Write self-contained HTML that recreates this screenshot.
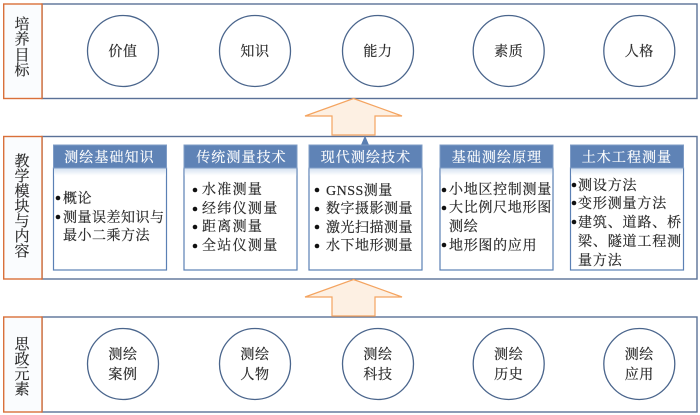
<!DOCTYPE html>
<html lang="zh"><head><meta charset="utf-8">
<style>
html,body{margin:0;padding:0;background:#fff;width:700px;height:415px;overflow:hidden}
svg{display:block}
text{font-family:"Liberation Serif","Noto Serif CJK SC",serif;font-size:14px;fill:#2b2b2b;stroke:#2b2b2b;stroke-width:.2px}
.c{text-anchor:middle}
.h{fill:#fff;stroke:#fff;stroke-width:.15px;font-size:14px;text-anchor:middle;letter-spacing:1.1px}
</style></head><body>
<svg width="700" height="415" viewBox="0 0 700 415" xmlns="http://www.w3.org/2000/svg">
<defs><linearGradient id="g" x1="0" y1="0" x2="0" y2="1"><stop offset="0" stop-color="#d5e2f1"/><stop offset="1" stop-color="#fff"/></linearGradient></defs>
<g fill="#fff" stroke="#5a7197" stroke-width="1.4">
<rect x="42" y="4" width="655" height="94.5"/>
<rect x="42" y="136.5" width="655" height="142.5"/>
<rect x="42" y="317" width="655" height="95"/>
</g>
<g fill="#fafcfe" stroke="#d9703a" stroke-width="1.4">
<rect x="3.7" y="4" width="38.3" height="94.5"/>
<rect x="3.7" y="136.5" width="38.3" height="142.5"/>
<rect x="3.7" y="317" width="38.3" height="95"/>
</g>
<g fill="#fdf0e3" stroke="#f4a460" stroke-width="1.2">
<polygon points="353.5,98.5 402,116 375,116 375,135 332,135 332,116 305,116"/>
<polygon points="353.5,279.5 402,297 375,297 375,316 332,316 332,297 305,297"/>
</g>
<polygon points="365,135.5 361,145 369,145" fill="#5a7fb2"/>
<g fill="#fff" stroke="#4a658c" stroke-width="1.3">
<circle cx="123" cy="51" r="35.5"/><circle cx="255" cy="51" r="35.5"/><circle cx="378" cy="51" r="35.5"/><circle cx="508.7" cy="51" r="35.5"/><circle cx="639.3" cy="51" r="35.5"/>
<circle cx="123" cy="364" r="35.5"/><circle cx="255" cy="364" r="35.5"/><circle cx="378" cy="364" r="35.5"/><circle cx="508.7" cy="364" r="35.5"/><circle cx="639.3" cy="364" r="35.5"/>
</g>

<g>
<rect x="53.5" y="168" width="113" height="102" fill="#fff" stroke="#5b80b4" stroke-width="1.2"/>
<rect x="184" y="168" width="113" height="102" fill="#fff" stroke="#5b80b4" stroke-width="1.2"/>
<rect x="309" y="168" width="113" height="102" fill="#fff" stroke="#5b80b4" stroke-width="1.2"/>
<rect x="440" y="168" width="113" height="102" fill="#fff" stroke="#5b80b4" stroke-width="1.2"/>
<rect x="570.5" y="168" width="113" height="102" fill="#fff" stroke="#5b80b4" stroke-width="1.2"/>
</g>
<g fill="url(#g)">
<rect x="54.2" y="168.5" width="111.6" height="7"/><rect x="184.7" y="168.5" width="111.6" height="7"/><rect x="309.7" y="168.5" width="111.6" height="7"/><rect x="440.7" y="168.5" width="111.6" height="7"/><rect x="571.2" y="168.5" width="111.6" height="7"/>
</g>
<g fill="#5f83b6" stroke="#7f9cc6" stroke-width="1">
<rect x="53.5" y="145" width="113" height="23"/><rect x="184" y="145" width="113" height="23"/><rect x="309" y="145" width="113" height="23"/><rect x="440" y="145" width="113" height="23"/><rect x="570.5" y="145" width="113" height="23"/>
</g>
<text class="h" x="109.5" y="162">测绘基础知识</text>
<text class="h" x="241.5" y="162">传统测量技术</text>
<text class="h" x="366" y="162">现代测绘技术</text>
<text class="h" x="497" y="162">基础测绘原理</text>
<text class="h" x="627" y="162">土木工程测量</text>

<g text-anchor="middle">
<text class="c" x="22" y="29" style="font-size:15px">培</text><text class="c" x="22" y="44" style="font-size:15px">养</text><text class="c" x="22" y="60" style="font-size:15px">目</text><text class="c" x="22" y="75" style="font-size:15px">标</text>
<text class="c" x="22" y="166" style="font-size:15px">教</text><text class="c" x="22" y="181" style="font-size:15px">学</text><text class="c" x="22" y="196" style="font-size:15px">模</text><text class="c" x="22" y="211" style="font-size:15px">块</text><text class="c" x="22" y="226" style="font-size:15px">与</text><text class="c" x="22" y="241" style="font-size:15px">内</text><text class="c" x="22" y="256" style="font-size:15px">容</text>
<text class="c" x="22" y="349" style="font-size:15px">思</text><text class="c" x="22" y="364" style="font-size:15px">政</text><text class="c" x="22" y="379" style="font-size:15px">元</text><text class="c" x="22" y="394" style="font-size:15px">素</text>
</g>

<g style="letter-spacing:.6px">
<text class="c" x="123" y="56">价值</text><text class="c" x="255" y="56">知识</text><text class="c" x="378" y="56">能力</text><text class="c" x="508.7" y="56">素质</text><text class="c" x="639.3" y="56">人格</text>
<text class="c" x="123" y="359">测绘</text><text class="c" x="123" y="379">案例</text>
<text class="c" x="255" y="359">测绘</text><text class="c" x="255" y="379">人物</text>
<text class="c" x="378" y="359">测绘</text><text class="c" x="378" y="379">科技</text>
<text class="c" x="508.7" y="359">测绘</text><text class="c" x="508.7" y="379">历史</text>
<text class="c" x="639.3" y="359">测绘</text><text class="c" x="639.3" y="379">应用</text>
</g>

<g fill="#111">
<circle cx="58" cy="198" r="2.3"/><circle cx="58" cy="217" r="2.3"/>
<circle cx="195" cy="190" r="2.3"/><circle cx="195" cy="209" r="2.3"/><circle cx="195" cy="227" r="2.3"/><circle cx="195" cy="246" r="2.3"/>
<circle cx="317" cy="190" r="2.3"/><circle cx="317" cy="209" r="2.3"/><circle cx="317" cy="227" r="2.3"/><circle cx="317" cy="246" r="2.3"/>
<circle cx="444" cy="190" r="2.3"/><circle cx="444" cy="208" r="2.3"/><circle cx="444" cy="245" r="2.3"/>
<circle cx="574" cy="185" r="2.3"/><circle cx="574" cy="203" r="2.3"/><circle cx="574" cy="222" r="2.3"/>
</g>
<g style="letter-spacing:.5px">
<text x="63" y="203">概论</text><text x="63" y="222">测量误差知识与</text><text x="63" y="240">最小二乘方法</text>
</g>
<g style="letter-spacing:1.3px">
<text x="202" y="194">水准测量</text><text x="202" y="213">经纬仪测量</text><text x="202" y="231">距离测量</text><text x="202" y="250">全站仪测量</text>
</g>
<g style="letter-spacing:.5px">
<text x="326" y="195">GNSS测量</text><text x="326" y="213">数字摄影测量</text><text x="326" y="232">激光扫描测量</text><text x="326" y="250">水下地形测量</text>
</g>
<g style="letter-spacing:.7px">
<text x="449" y="194">小地区控制测量</text><text x="449" y="212">大比例尺地形图</text><text x="449" y="231">测绘</text><text x="449" y="250">地形图的应用</text>
</g>
<g style="letter-spacing:.85px">
<text x="578" y="190">测设方法</text><text x="578" y="208">变形测量方法</text><text x="578" y="227">建筑、道路、桥</text><text x="578" y="246">梁、隧道工程测</text><text x="578" y="265">量方法</text>
</g>
</svg>
</body></html>
